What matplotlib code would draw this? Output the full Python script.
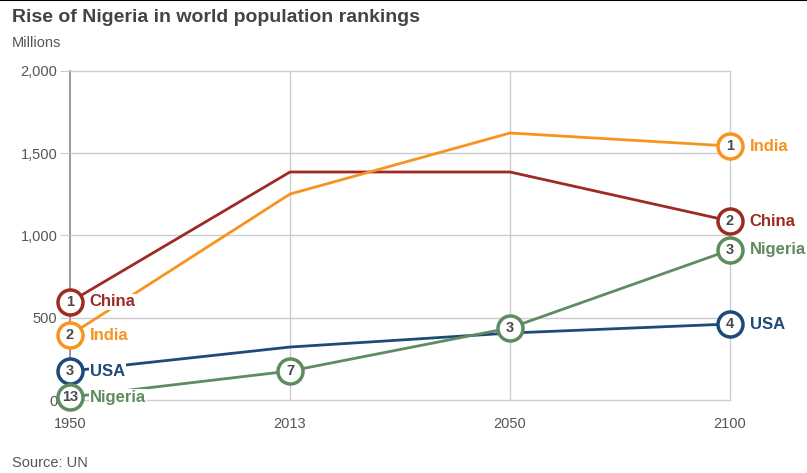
import matplotlib
matplotlib.use("Agg")
import matplotlib.pyplot as plt

plt.rcParams['font.family'] = ['Liberation Sans', 'DejaVu Sans']

# data (millions)
years = ['1950', '2013', '2050', '2100']
china = [596, 1386, 1386, 1088]
india = [395, 1252, 1623, 1544]
usa = [176, 322, 407, 462]
nigeria = [18, 176, 438, 912]

# rank markers: index -> rank
china_ranks = {0: 1, 3: 2}
india_ranks = {0: 2, 3: 1}
usa_ranks = {0: 3, 3: 4}
nigeria_ranks = {0: 13, 1: 7, 2: 3, 3: 3}

series = [
    ('China', china, china_ranks, '#9e2a24'),
    ('India', india, india_ranks, '#f7931e'),
    ('USA', usa, usa_ranks, '#1d4a78'),
    ('Nigeria', nigeria, nigeria_ranks, '#5e8b5f'),
]

fig = plt.figure(figsize=(8.07, 4.73), dpi=100)
ax = fig.add_axes([70 / 807, 1 - 400 / 473, 660 / 807, 329 / 473])

x = list(range(len(years)))
grid_c = '#cccccc'
for v in [0, 500, 1000, 1500, 2000]:
    ax.axhline(v, color=grid_c, lw=1, zorder=1, clip_on=False)
for xi in x[1:]:
    ax.axvline(xi, color=grid_c, lw=1, zorder=1, clip_on=False)
ax.plot([0, 0], [-60, 2000], color='#888888', lw=1.2, zorder=1, clip_on=False)

for name, vals, ranks, col in series:
    ax.plot(x, vals, color=col, lw=2, zorder=2, solid_capstyle='butt')
    for i, r in ranks.items():
        ax.plot(i, vals[i], 'o', ms=18, mfc='white', mec=col, mew=2.5, zorder=4,
                clip_on=False)
        ax.text(i, vals[i], str(r), ha='center', va='center', fontsize=10.5,
                fontweight='bold', color='#4a4a4a', zorder=5)
    for i in (0, 3):
        ax.text(i + 0.09, vals[i], name, ha='left', va='center', fontsize=12,
                fontweight='bold', color=col, zorder=3,
                bbox=dict(facecolor='white', edgecolor='none', pad=0.5))

ax.set_xlim(0, 3)
ax.set_ylim(0, 2000)
ax.set_xticks(x)
ax.set_xticklabels(years)
ax.set_yticks([0, 500, 1000, 1500, 2000])
ax.set_yticklabels(['0', '500', '1,000', '1,500', '2,000'])
ax.tick_params(axis='y', length=7, color=grid_c, labelsize=10.5, labelcolor='#555555', pad=2)
ax.tick_params(axis='x', length=0, labelsize=10.5, labelcolor='#555555', pad=12)
for s in ax.spines.values():
    s.set_visible(False)

fig.text(12 / 807, 1 - 17 / 473, 'Rise of Nigeria in world population rankings',
         fontsize=14, fontweight='bold', color='#444444', va='center')
fig.text(12 / 807, 1 - 43 / 473, 'Millions', fontsize=10.5, color='#555555', va='center')
fig.text(12 / 807, 1 - 463 / 473, 'Source: UN', fontsize=10.5, color='#555555', va='center')
fig.add_artist(plt.Line2D([0, 1], [0.999, 0.999], color='black', lw=1.5))

fig.savefig('out.png', dpi=100)
